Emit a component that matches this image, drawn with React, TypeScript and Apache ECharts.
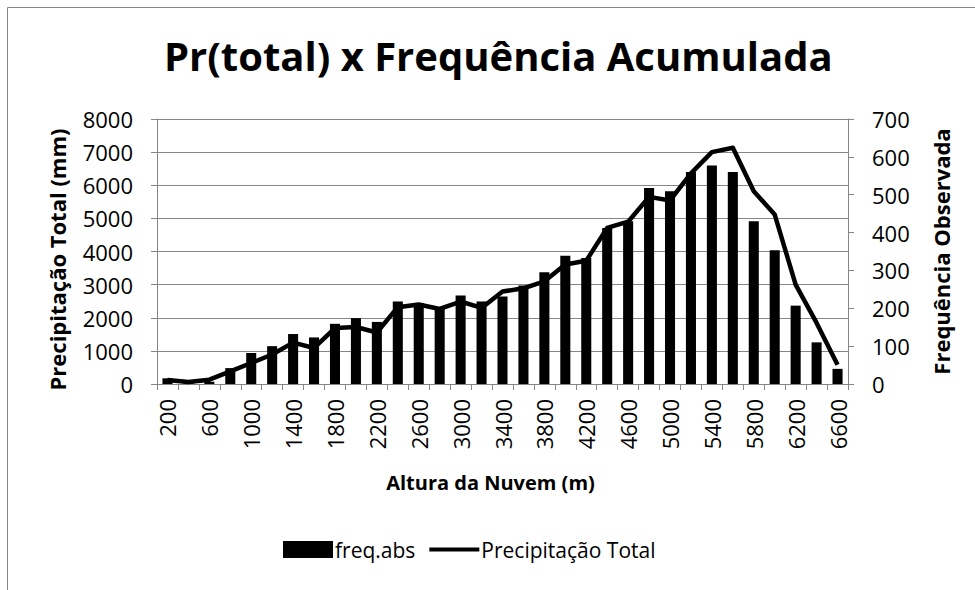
import React, { useEffect, useRef } from "react";
import * as echarts from "echarts";

const categories = [
  "200", "400", "600", "800", "1000", "1200", "1400", "1600", "1800", "2000", "2200",
  "2400", "2600", "2800", "3000", "3200", "3400", "3600", "3800", "4000", "4200", "4400",
  "4600", "4800", "5000", "5200", "5400", "5600", "5800", "6000", "6200", "6400", "6600",
];

const freqAbs = [
  15, 4, 6, 42, 82, 100, 132, 123, 159, 174, 164,
  218, 214, 201, 234, 218, 231, 260, 295, 339, 333, 412,
  430, 518, 509, 560, 577, 560, 430, 353, 207, 110, 40,
];

const precipTotal = [
  120, 60, 130, 380, 634, 890, 1250, 1088, 1690, 1720, 1555,
  2320, 2400, 2266, 2490, 2296, 2790, 2890, 3100, 3610, 3720, 4713,
  4900, 5650, 5540, 6360, 7000, 7130, 5820, 5115, 3000, 1843, 583,
];

const titleText = "Pr(total) x Frequência Acumulada";
const xName = "Altura da Nuvem (m)";
const yLeftName = "Precipitação Total (mm)";
const yRightName = "Frequência Observada";
const barName = "freq.abs";
const lineName = "Precipitação Total";

const FONT = "'Open Sans', 'Noto Sans', sans-serif";
const GRAY = "#868686";

export default function App() {
  const ref = useRef<HTMLDivElement>(null);

  useEffect(() => {
    if (!ref.current) return;
    const chart = echarts.init(ref.current, null, { renderer: "svg" });
    chart.setOption({
      animation: false,
      backgroundColor: "#ffffff",
      textStyle: { fontFamily: FONT, color: "#000" },
      title: {
        text: titleText,
        left: 159,
        top: 30,
        textStyle: { fontFamily: FONT, fontSize: 40, fontWeight: "bold", color: "#000" },
      },
      graphic: [
        {
          type: "rect",
          shape: { x: 7.5, y: 7.5, width: 1100, height: 700 },
          style: { fill: "none", stroke: GRAY, lineWidth: 1 },
          silent: true,
          z: -1,
        },
      ],
      legend: {
        left: 283,
        top: 539,
        padding: 0,
        itemWidth: 50,
        itemHeight: 17,
        itemGap: 14,
        textStyle: { fontFamily: FONT, fontSize: 21, color: "#000", padding: [0, 0, 0, -3] },
        data: [
          { name: barName, icon: "rect" },
          { name: lineName, icon: "path://M0,0 L0.01,0 L0.01,0.01 Z M0,6.5 L50,6.5 L50,10.5 L0,10.5 Z M0,17 L0.01,17 L0.01,16.99 Z" },
        ],
      },
      grid: { left: 157, right: 127, top: 119, bottom: 206, containLabel: false },
      xAxis: {
        type: "category",
        data: categories,
        name: xName,
        nameLocation: "middle",
        nameGap: 88,
        nameTextStyle: { fontFamily: FONT, fontSize: 20, fontWeight: "bold", color: "#000", padding: [0, 24, 0, 0] },
        axisLine: { lineStyle: { color: GRAY, width: 1 } },
        axisTick: { show: true, interval: 0, length: 6, lineStyle: { color: GRAY } },
        axisLabel: {
          interval: 1,
          rotate: 90,
          margin: 15,
          fontFamily: FONT,
          fontSize: 22,
          color: "#000",
        },
        splitLine: { show: false },
      },
      yAxis: [
        {
          type: "value",
          min: 0,
          max: 8000,
          interval: 1000,
          name: yLeftName,
          nameLocation: "middle",
          nameGap: 89,
          nameRotate: 90,
          nameTextStyle: { fontFamily: FONT, fontSize: 22, fontWeight: "bold", color: "#000", padding: [0, 16, 0, 0] },
          axisLine: { show: true, lineStyle: { color: GRAY, width: 1 } },
          axisTick: { show: true, length: 6, lineStyle: { color: GRAY } },
          axisLabel: {
            margin: 24,
            fontFamily: FONT,
            fontSize: 22,
            color: "#000",
            formatter: (v: number) => String(v),
          },
          splitLine: { show: true, lineStyle: { color: GRAY, width: 1 } },
        },
        {
          type: "value",
          min: 0,
          max: 700,
          interval: 100,
          position: "right",
          name: yRightName,
          nameLocation: "middle",
          nameGap: 82,
          nameRotate: 90,
          nameTextStyle: { fontFamily: FONT, fontSize: 22, fontWeight: "bold", color: "#000" },
          axisLine: { show: true, lineStyle: { color: GRAY, width: 1 } },
          axisTick: { show: true, length: 6, lineStyle: { color: GRAY } },
          axisLabel: {
            margin: 24,
            fontFamily: FONT,
            fontSize: 22,
            color: "#000",
            formatter: (v: number) => String(v),
          },
          splitLine: { show: false },
        },
      ],
      series: [
        {
          name: barName,
          type: "bar",
          yAxisIndex: 1,
          data: freqAbs,
          barWidth: "48%",
          itemStyle: { color: "#000" },
          z: 2,
        },
        {
          name: lineName,
          type: "line",
          yAxisIndex: 0,
          data: precipTotal,
          showSymbol: false,
          symbol: "none",
          lineStyle: { color: "#000", width: 4.5, join: "round" },
          itemStyle: { color: "#000" },
          z: 3,
        },
      ],
    });
    return () => chart.dispose();
  }, []);

  return (
    <div
      ref={ref}
      style={{ position: "fixed", left: 0, top: 0, width: 975, height: 590, background: "#fff" }}
    />
  );
}
